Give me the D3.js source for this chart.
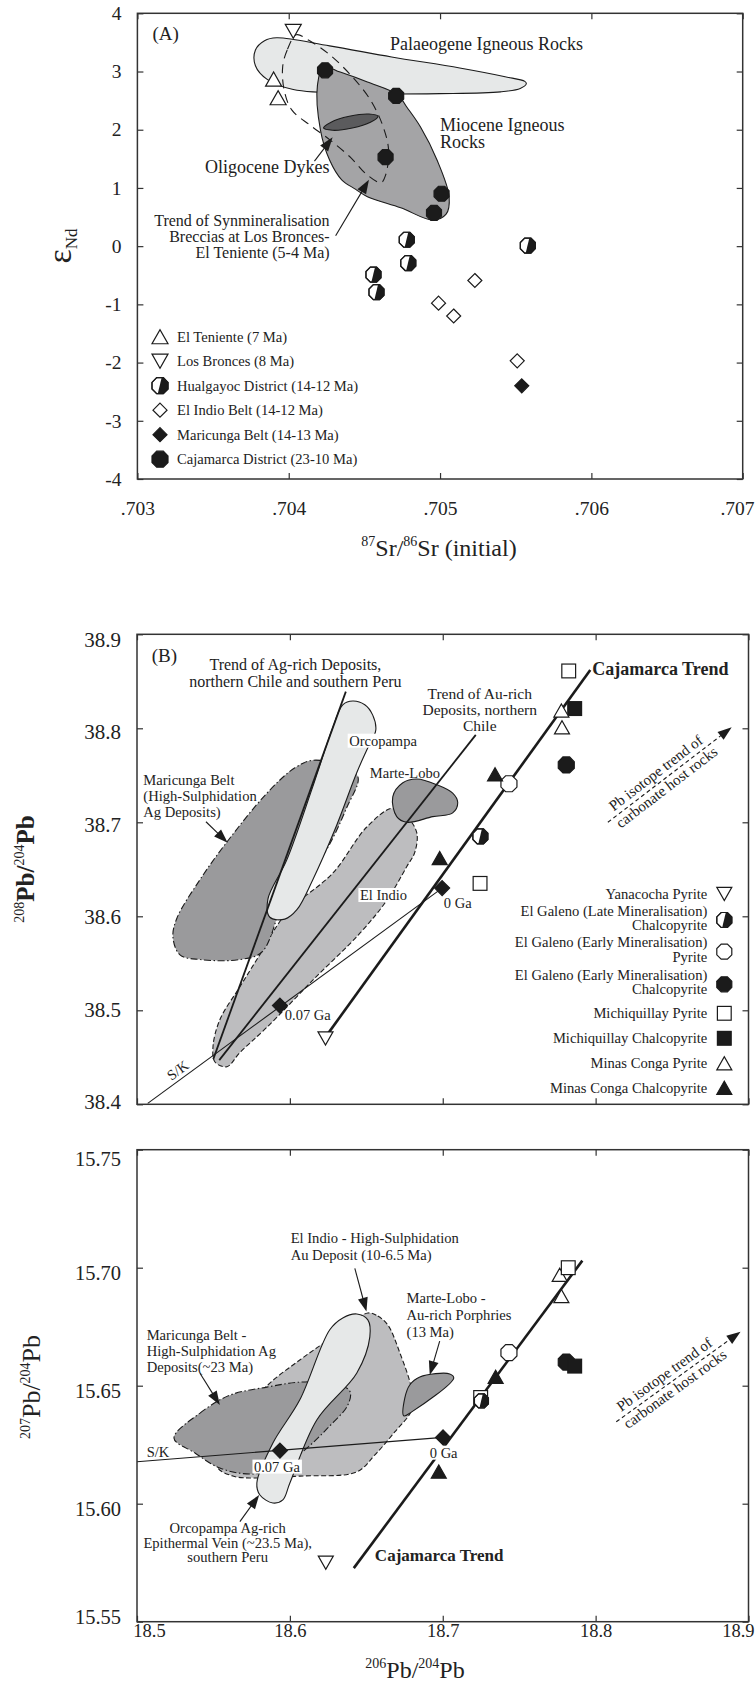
<!DOCTYPE html>
<html>
<head>
<meta charset="utf-8">
<script src="https://cdn.jsdelivr.net/npm/d3@7"></script>
<style>
  body { margin: 0; background: #fff; }
  svg text { font-family: "Liberation Serif", "DejaVu Serif", serif; }
</style>
</head>
<body>
<svg id="chart" width="755" height="1684"></svg>
<script>
// ---------- Panel A: eNd vs 87Sr/86Sr (initial) ----------
const srTicks = [0.703, 0.704, 0.705, 0.706, 0.707]
const ndTicks = [-4, -3, -2, -1, 0, 1, 2, 3, 4]

const elTeniente = [[0.70390, 2.87], [0.70393, 2.55]]
const losBronces = [[0.70403, 3.69]]
const hualgayoc = [[0.70478, 0.11], [0.70479, -0.29], [0.70456, -0.49], [0.70458, -0.79], [0.70558, 0.01]]
const elIndioBelt = [[0.70523, -0.59], [0.70499, -0.98], [0.70509, -1.20], [0.70551, -1.97]]
const maricungaBelt = [[0.70554, -2.40]]
const cajamarcaDistrict = [[0.70424, 3.02], [0.70471, 2.58], [0.70464, 1.53], [0.70501, 0.90], [0.70496, 0.57]]

const legendNamesA = ["El Teniente (7 Ma)", "Los Bronces (8 Ma)", "Hualgayoc District (14-12 Ma)",
  "El Indio Belt (14-12 Ma)", "Maricunga Belt (14-13 Ma)", "Cajamarca District (23-10 Ma)"]

const palaeogeneField = [[0.70392, 3.58], [0.70427, 3.44], [0.70468, 3.25], [0.70513, 3.06], [0.70543, 2.91],
  [0.70556, 2.83], [0.70557, 2.79], [0.70553, 2.71], [0.70540, 2.65], [0.70500, 2.62], [0.70447, 2.62],
  [0.70403, 2.69], [0.70386, 2.86], [0.70378, 3.10], [0.70378, 3.37], [0.70384, 3.53]]
const mioceneField = [[0.70423, 3.08], [0.70419, 2.77], [0.70421, 1.99], [0.70427, 1.48], [0.70435, 1.14],
  [0.70444, 0.98], [0.70452, 0.85], [0.70474, 0.66], [0.70495, 0.45], [0.70504, 0.55], [0.70506, 0.85],
  [0.70498, 1.48], [0.70487, 2.05], [0.70478, 2.39], [0.70472, 2.60], [0.70452, 2.82], [0.70434, 2.99]]
const oligoceneDykes = [[0.70459, 2.23], [0.70454, 2.13], [0.70442, 2.03], [0.70429, 1.99], [0.70423, 2.03],
  [0.70428, 2.13], [0.70440, 2.23], [0.70453, 2.27]]
const brecciaTrend = [[0.70405, 3.63], [0.70399, 3.37], [0.70396, 3.08], [0.70397, 2.68], [0.70402, 2.34],
  [0.70414, 2.08], [0.70427, 1.83], [0.70441, 1.52], [0.70452, 1.22], [0.70461, 1.09], [0.70464, 1.22],
  [0.70466, 1.65], [0.70462, 2.08], [0.70454, 2.51], [0.70442, 2.91], [0.70427, 3.29], [0.70413, 3.54]]

// ---------- Panels B and C: Pb isotopes ----------
const pb206Ticks = [18.5, 18.6, 18.7, 18.8, 18.9]
const pb208Ticks = [38.4, 38.5, 38.6, 38.7, 38.8, 38.9]
const pb207Ticks = [15.55, 15.60, 15.65, 15.70, 15.75]

const legendNamesB = [["Yanacocha Pyrite"], ["El Galeno (Late Mineralisation)", "Chalcopyrite"],
  ["El Galeno (Early Mineralisation)", "Pyrite"], ["El Galeno (Early Mineralisation)", "Chalcopyrite"],
  ["Michiquillay Pyrite"], ["Michiquillay Chalcopyrite"], ["Minas Conga Pyrite"], ["Minas Conga Chalcopyrite"]]

// 208Pb/204Pb
const yanacochaPyB = [[18.6233, 38.470]]
const galenoLateCpB = [[18.7246, 38.685]]
const galenoEarlyPyB = [[18.7433, 38.741]]
const galenoEarlyCpB = [[18.7808, 38.761]]
const michiPyB = [[18.7824, 38.861], [18.7244, 38.635]]
const michiCpB = [[18.7863, 38.821]]
const congaPyB = [[18.7776, 38.819], [18.7780, 38.801]]
const congaCpB = [[18.7342, 38.751], [18.6980, 38.662]]
const skModelB = [[18.5935, 38.505], [18.6996, 38.630]]

const skLineB = [[18.507, 38.401], [18.6996, 38.630]]
const agTrendB = [[18.5499, 38.448], [18.6366, 38.839]]
const auTrendB = [[18.5538, 38.447], [18.7216, 38.793]]
const cajTrendB = [[18.6235, 38.472], [18.7965, 38.862]]
const hostTrendB = [[18.808, 38.700], [18.889, 38.801]]

const maricungaFieldB = [[18.6150, 38.766], [18.6294, 38.762], [18.6444, 38.749], [18.6373, 38.716],
  [18.6196, 38.660], [18.5993, 38.629], [18.5817, 38.562], [18.5673, 38.554], [18.5412, 38.554],
  [18.5281, 38.559], [18.5235, 38.578], [18.5261, 38.598], [18.5412, 38.639], [18.5588, 38.679],
  [18.5850, 38.731], [18.6033, 38.758]]
const orcopampaFieldB = [[18.6346, 38.825], [18.6412, 38.829], [18.6490, 38.825], [18.6542, 38.814],
  [18.6562, 38.798], [18.6503, 38.777], [18.6438, 38.753], [18.6294, 38.692], [18.6150, 38.639],
  [18.6046, 38.607], [18.5967, 38.597], [18.5869, 38.599], [18.5856, 38.618], [18.5980, 38.660],
  [18.6150, 38.738], [18.6281, 38.801]]
const elIndioFieldB = [[18.6673, 38.715], [18.6765, 38.706], [18.6830, 38.689], [18.6817, 38.668],
  [18.6765, 38.653], [18.6634, 38.617], [18.6458, 38.582], [18.6150, 38.532], [18.5850, 38.482],
  [18.5673, 38.455], [18.5588, 38.440], [18.5510, 38.445], [18.5497, 38.461], [18.5542, 38.490],
  [18.5673, 38.525], [18.5784, 38.554], [18.5980, 38.604], [18.6281, 38.646], [18.6503, 38.695]]
const marteLoboFieldB = [[18.6673, 38.727], [18.6739, 38.742], [18.6830, 38.746], [18.6961, 38.740],
  [18.7065, 38.731], [18.7098, 38.721], [18.7065, 38.710], [18.6935, 38.706], [18.6765, 38.700],
  [18.6699, 38.706]]

// 207Pb/204Pb
const yanacochaPyC = [[18.6235, 15.575]]
const galenoLateCpC = [[18.7253, 15.6436]]
const galenoEarlyPyC = [[18.7433, 15.664]]
const galenoEarlyCpC = [[18.7808, 15.660]]
const michiPyC = [[18.7821, 15.700], [18.7248, 15.645]]
const michiCpC = [[18.7863, 15.6583]]
const congaPyC = [[18.7765, 15.697], [18.7776, 15.688]]
const congaCpC = [[18.7346, 15.6538], [18.6974, 15.6136]]
const skModelC = [[18.5935, 15.6225], [18.7002, 15.6281]]

const skLineC = [[18.5, 15.6178], [18.7002, 15.6281]]
const cajTrendC = [[18.6418, 15.5727], [18.7913, 15.7030]]
const hostTrendC = [[18.8135, 15.6347], [18.8948, 15.6729]]

const elIndioFieldC = [[18.6510, 15.6808], [18.6575, 15.6795], [18.6641, 15.6757], [18.6719, 15.6640],
  [18.6797, 15.6482], [18.6797, 15.6397], [18.6686, 15.6304], [18.6556, 15.6207], [18.6438, 15.6135],
  [18.6065, 15.6117], [18.5778, 15.6109], [18.5627, 15.6117], [18.5523, 15.6160], [18.5673, 15.6355],
  [18.5843, 15.6495], [18.6065, 15.6609], [18.6281, 15.6707]]
const maricungaFieldC = [[18.5242, 15.6278], [18.5412, 15.6384], [18.5608, 15.6460], [18.5850, 15.6494],
  [18.6065, 15.6515], [18.6281, 15.6511], [18.6392, 15.6477], [18.6379, 15.6418], [18.6248, 15.6321],
  [18.6098, 15.6228], [18.5935, 15.6151], [18.5739, 15.6126], [18.5542, 15.6151], [18.5379, 15.6215]]
const orcopampaFieldC = [[18.6261, 15.6737], [18.6346, 15.6787], [18.6438, 15.6804], [18.6510, 15.6779],
  [18.6523, 15.6707], [18.6438, 15.6554], [18.6176, 15.6355], [18.6000, 15.6088], [18.5954, 15.6016],
  [18.5889, 15.6003], [18.5804, 15.6037], [18.5784, 15.6088], [18.5889, 15.6257], [18.6065, 15.6440]]
const marteLoboFieldC = [[18.6752, 15.6448], [18.6784, 15.6503], [18.6850, 15.6537], [18.7046, 15.6550],
  [18.7072, 15.6533], [18.6797, 15.6389], [18.6745, 15.6372]]

// ---------- drawing ----------
const serif = '"Liberation Serif", "DejaVu Serif", serif'
const ink = "#1b1b1b"
const svg = d3.select("#chart").attr("font-family", serif)
svg.append("rect").attr("width", 755).attr("height", 1684).attr("fill", "#fff")

svg.append("defs").append("clipPath").attr("id", "halfClip").attr("clipPathUnits", "objectBoundingBox")
  .append("polygon").attr("points", "0.6,0 1.1,0 1.1,1 0.36,1")

const xA = d3.scaleLinear().domain([0.703, 0.707]).range([137.4, 742.7])
const yA = d3.scaleLinear().domain([-4, 4]).range([479, 13.3])
const xB = d3.scaleLinear().domain([18.5, 18.9]).range([137, 748.5])
const yB = d3.scaleLinear().domain([38.4, 38.9]).range([1104.3, 634.3])
const xC = xB.copy()
const yC = d3.scaleLinear().domain([15.55, 15.75]).range([1621.7, 1149.7])

// ticks point inward on all four sides; labels only left and bottom
function axes(x, y, xt, yt, xfmt, yfmt, xPad, yShift, fs) {
  const g = svg.append("g")
  const [x0, x1] = x.range(), [y0, y1] = y.range()
  const none = () => ""
  const bottom = g.append("g").attr("transform", `translate(0,${y0})`)
    .call(d3.axisBottom(x).tickValues(xt).tickSize(-6).tickPadding(xPad).tickFormat(xfmt || none))
  g.append("g").attr("transform", `translate(0,${y1})`)
    .call(d3.axisTop(x).tickValues(xt).tickSize(-6).tickFormat(none))
  const left = g.append("g").attr("transform", `translate(${x0},0)`)
    .call(d3.axisLeft(y).tickValues(yt).tickSize(-6).tickPadding(16).tickFormat(yfmt))
  g.append("g").attr("transform", `translate(${x1},0)`)
    .call(d3.axisRight(y).tickValues(yt).tickSize(-6).tickFormat(none))
  g.selectAll(".domain").remove()
  g.selectAll(".tick line").attr("stroke", "#333").attr("stroke-width", 1.2)
  g.selectAll(".tick text").attr("font-family", serif).attr("fill", "#222")
  bottom.selectAll(".tick text").attr("font-size", fs[0])
  left.selectAll(".tick text").attr("font-size", fs[1]).attr("y", yShift)
  // keep the last x label inside the page
  bottom.selectAll(".tick text").filter(d => d === xt[xt.length - 1])
    .attr("text-anchor", "end").attr("x", 754 - x1)
  return { bottom, draw: () => svg.append("rect").attr("x", x0).attr("y", y1).attr("width", x1 - x0).attr("height", y0 - y1)
    .attr("fill", "none").attr("stroke", "#333").attr("stroke-width", 1.5) }
}

const blob = (x, y) => d3.line().x(d => x(d[0])).y(d => y(d[1])).curve(d3.curveCatmullRomClosed.alpha(0.5))
function region(g, pts, x, y, fill, dash) {
  g.append("path").attr("d", blob(x, y)(pts)).attr("fill", fill)
    .attr("stroke", ink).attr("stroke-width", 1.1).attr("stroke-dasharray", dash || null)
}
function seg(g, pts, x, y, w, dash) {
  g.append("line").attr("x1", x(pts[0][0])).attr("y1", y(pts[0][1]))
    .attr("x2", x(pts[1][0])).attr("y2", y(pts[1][1]))
    .attr("stroke", ink).attr("stroke-width", w).attr("stroke-dasharray", dash || null)
}
function arrow(g, x1, y1, x2, y2, dash) {
  const len = 14, wid = 10
  const L = Math.hypot(x2 - x1, y2 - y1), ux = (x2 - x1) / L, uy = (y2 - y1) / L
  const bx = x2 - ux * len, by = y2 - uy * len
  g.append("line").attr("x1", x1).attr("y1", y1).attr("x2", bx + ux * 2).attr("y2", by + uy * 2)
    .attr("stroke", ink).attr("stroke-width", 1.1).attr("stroke-dasharray", dash || null)
  g.append("path").attr("d", `M${x2},${y2}L${bx - uy * wid / 2},${by + ux * wid / 2}L${bx + uy * wid / 2},${by - ux * wid / 2}Z`)
    .attr("fill", ink)
}
function label(g, x, y, lines, o = {}) {
  const t = g.append("text").attr("x", x).attr("y", y).attr("font-size", o.size || 15)
    .attr("text-anchor", o.anchor || "start").attr("font-weight", o.weight || null).attr("fill", "#222")
  lines.forEach((s, i) => t.append("tspan").attr("x", x).attr("dy", i ? (o.lh || 16) : 0).text(s))
  if (o.bg) {
    const b = t.node().getBBox()
    g.insert("rect", () => t.node()).attr("x", b.x - 1.5).attr("y", b.y + 1).attr("width", b.width + 3)
      .attr("height", b.height - 2).attr("fill", "#fff")
  }
  return t
}

function symbol(g, type, cx, cy, s) {
  const t = g.append("g").attr("transform", `translate(${cx},${cy})`)
  const h = s / 2
  const st = p => p.attr("stroke", ink).attr("stroke-width", 1.2).attr("stroke-linejoin", "miter")
  const oct = () => {
    const r = h / Math.cos(Math.PI / 8)
    return "M" + d3.range(8).map(i => {
      const a = Math.PI / 8 + i * Math.PI / 4
      return [r * Math.cos(a), r * Math.sin(a)].join(",")
    }).join("L") + "Z"
  }
  if (type === "triUp" || type === "triUpFill")
    st(t.append("path").attr("d", `M${-h},${h * 0.88}L${h},${h * 0.88}L0,${-h * 0.88}Z`))
      .attr("fill", type === "triUp" ? "#fff" : ink)
  else if (type === "triDown")
    st(t.append("path").attr("d", `M${-h},${-h * 0.88}L${h},${-h * 0.88}L0,${h * 0.88}Z`)).attr("fill", "#fff")
  else if (type === "diamond" || type === "diamondFill")
    st(t.append("path").attr("d", `M0,${-h}L${h},0L0,${h}L${-h},0Z`)).attr("fill", type === "diamond" ? "#fff" : ink)
  else if (type === "square" || type === "squareFill")
    st(t.append("rect").attr("x", -h * 0.92).attr("y", -h * 0.92).attr("width", h * 1.84).attr("height", h * 1.84))
      .attr("fill", type === "square" ? "#fff" : ink)
  else if (type === "oct" || type === "octFill")
    st(t.append("path").attr("d", oct())).attr("fill", type === "oct" ? "#fff" : ink)
  else if (type === "half") {
    st(t.append("path").attr("d", oct())).attr("fill", "#fff")
    t.append("path").attr("d", oct()).attr("fill", ink).attr("clip-path", "url(#halfClip)")
    st(t.append("path").attr("d", oct())).attr("fill", "none")
  }
}
function points(g, data, x, y, type, s) {
  data.forEach(d => symbol(g, type, x(d[0]), y(d[1]), s))
}

// ===== Panel A =====
const frameA = axes(xA, yA, srTicks, ndTicks, d => d3.format(".3f")(d).replace(/^0/, ""), d => String(d), 22, 0, [19.5, 19.5])
const gA = svg.append("g")
region(gA, palaeogeneField, xA, yA, "#e6e8e8")
region(gA, mioceneField, xA, yA, "#a4a4a6")
region(gA, oligoceneDykes, xA, yA, "#5b5b5d")
gA.append("path").attr("d", blob(xA, yA)(brecciaTrend)).attr("fill", "none")
  .attr("stroke", ink).attr("stroke-width", 1.1).attr("stroke-dasharray", "9,6")
arrow(gA, xA(0.70417), yA(1.46), xA(0.70429), yA(1.87))
arrow(gA, xA(0.70431), yA(0.18), xA(0.70453), yA(1.14))

points(gA, elTeniente, xA, yA, "triUp", 16)
points(gA, losBronces, xA, yA, "triDown", 16)
points(gA, hualgayoc, xA, yA, "half", 15)
points(gA, elIndioBelt, xA, yA, "diamond", 14)
points(gA, maricungaBelt, xA, yA, "diamondFill", 14)
points(gA, cajamarcaDistrict, xA, yA, "octFill", 15)

label(gA, xA(0.70310), yA(3.54), ["(A)"], { size: 19 })
label(gA, xA(0.70467), yA(3.37), ["Palaeogene Igneous Rocks"], { size: 18 })
label(gA, xA(0.70500), yA(1.98), ["Miocene Igneous", "Rocks"], { size: 18, lh: 17 })
label(gA, xA(0.70427), yA(1.26), ["Oligocene Dykes"], { size: 18, anchor: "end" })
label(gA, xA(0.70427), yA(0.35), ["Trend of Synmineralisation", "Breccias at Los Bronces-", "El Teniente (5-4 Ma)"],
  { size: 16, anchor: "end", lh: 16.3 })

const symA = ["triUp", "triDown", "half", "diamond", "diamondFill", "octFill"]
legendNamesA.forEach((n, i) => {
  const cy = 336.7 + i * 24.5
  symbol(gA, symA[i], 160, cy, i === 3 || i === 4 ? 14 : 16)
  label(gA, 177, cy + 5, [n], { size: 14.6 })
})
frameA.draw()

const tA = svg.append("text").attr("x", 439).attr("y", 556).attr("text-anchor", "middle").attr("fill", "#222")
tA.append("tspan").attr("font-size", 14).attr("dy", -10).text("87")
tA.append("tspan").attr("font-size", 24).attr("dy", 10).text("Sr/")
tA.append("tspan").attr("font-size", 14).attr("dy", -10).text("86")
tA.append("tspan").attr("font-size", 24).attr("dy", 10).text("Sr (initial)")
const eA = svg.append("text").attr("transform", "translate(71,246) rotate(-90)").attr("text-anchor", "middle").attr("fill", "#222")
eA.append("tspan").attr("font-size", 34).text("ε")
eA.append("tspan").attr("font-size", 17).attr("dy", 6).text("Nd")

// ===== Panel B =====
const frameB = axes(xB, yB, pb206Ticks, pb208Ticks, null, d3.format(".1f"), 4, d => 5.5 - (38.9 - d) * 16, [18.5, 21])
const gB = svg.append("g")
region(gB, elIndioFieldB, xB, yB, "#bdbdbf", "5,2.5")
region(gB, maricungaFieldB, xB, yB, "#9a9a9c", "7,2.5,1.5,2.5")
region(gB, orcopampaFieldB, xB, yB, "#e6e8e8")
region(gB, marteLoboFieldB, xB, yB, "#9a9a9c")
seg(gB, skLineB, xB, yB, 1.1)
seg(gB, agTrendB, xB, yB, 1.8)
seg(gB, auTrendB, xB, yB, 1.8)
seg(gB, cajTrendB, xB, yB, 2.6)
arrow(gB, xB(hostTrendB[0][0]), yB(hostTrendB[0][1]), xB(hostTrendB[1][0]), yB(hostTrendB[1][1]), "4,3")

points(gB, skModelB, xB, yB, "diamondFill", 15)
points(gB, yanacochaPyB, xB, yB, "triDown", 15)
points(gB, galenoLateCpB, xB, yB, "half", 15)
points(gB, galenoEarlyPyB, xB, yB, "oct", 16)
points(gB, galenoEarlyCpB, xB, yB, "octFill", 16)
points(gB, michiCpB, xB, yB, "squareFill", 15)
points(gB, michiPyB, xB, yB, "square", 15)
points(gB, congaPyB, xB, yB, "triUp", 15)
points(gB, congaCpB, xB, yB, "triUpFill", 15)

label(gB, xB(18.5096), yB(38.8705), ["(B)"], { size: 19 })
label(gB, xB(18.6036), yB(38.862), ["Trend of Ag-rich Deposits,", "northern Chile and southern Peru"],
  { size: 16, anchor: "middle", lh: 16.5 })
label(gB, xB(18.7242), yB(38.8312), ["Trend of Au-rich", "Deposits, northern", "Chile"],
  { size: 15.5, anchor: "middle", lh: 15.8 })
label(gB, xB(18.6388), yB(38.7815), ["Orcopampa"], { size: 14.5, bg: true })
label(gB, xB(18.6523), yB(38.7468), ["Marte-Lobo"], { size: 14.5 })
label(gB, xB(18.5041), yB(38.7397), ["Maricunga Belt", "(High-Sulphidation", "Ag Deposits)"], { size: 14.6, lh: 15.9 })
arrow(gB, xB(18.5451), yB(38.7006), xB(18.5593), yB(38.6783))
label(gB, xB(18.6458), yB(38.6173), ["El Indio"], { size: 14.5, bg: true })
label(gB, xB(18.7007), yB(38.6092), ["0 Ga"], { size: 14.5 })
label(gB, xB(18.5967), yB(38.4897), ["0.07 Ga"], { size: 14.5 })
{
  const a = Math.atan2(yB(skLineB[1][1]) - yB(skLineB[0][1]), xB(skLineB[1][0]) - xB(skLineB[0][0])) * 180 / Math.PI
  const t = d3.interpolate(skLineB[0], skLineB[1])(0.12)
  gB.append("text").attr("transform", `translate(${xB(t[0])},${yB(t[1])}) rotate(${a})`)
    .attr("text-anchor", "middle").attr("y", -4).attr("font-size", 14.5).attr("fill", "#222").text("S/K")
}
label(gB, xB(18.7978), yB(38.8567), ["Cajamarca Trend"], { size: 18, weight: "bold" })

function hostLabel(g, tr, x, y) {
  const x1 = x(tr[0][0]), y1 = y(tr[0][1]), x2 = x(tr[1][0]), y2 = y(tr[1][1])
  const a = Math.atan2(y2 - y1, x2 - x1) * 180 / Math.PI
  const tg = g.append("g").attr("transform", `translate(${(x1 + x2) / 2},${(y1 + y2) / 2}) rotate(${a})`)
  tg.append("text").attr("x", -10).attr("y", -5).attr("text-anchor", "middle").attr("font-size", 15)
    .attr("fill", "#222").text("Pb isotope trend of")
  tg.append("text").attr("x", -10).attr("y", 13).attr("text-anchor", "middle").attr("font-size", 15)
    .attr("fill", "#222").text("carbonate host rocks")
}
hostLabel(gB, hostTrendB, xB, yB)

const symB = ["triDown", "half", "oct", "octFill", "square", "squareFill", "triUp", "triUpFill"]
const legendYB = [894, 920, 951.7, 984.3, 1013.3, 1038.3, 1063.3, 1087.7]
legendNamesB.forEach((n, i) => {
  const cy = legendYB[i]
  symbol(gB, symB[i], 724.3, cy, 15)
  const first = n.length > 1 ? cy - 4.5 : cy + 5
  label(gB, 707.3, first, n, { size: 14.6, anchor: "end", lh: 14.3 })
})
frameB.draw()

const tB = svg.append("text").attr("transform", "translate(34,869) rotate(-90)").attr("text-anchor", "middle")
  .attr("fill", "#222").attr("font-weight", "bold")
tB.append("tspan").attr("font-size", 14).attr("dy", -10).attr("font-weight", "normal").text("208")
tB.append("tspan").attr("font-size", 25).attr("dy", 10).text("Pb/")
tB.append("tspan").attr("font-size", 14).attr("dy", -10).attr("font-weight", "normal").text("204")
tB.append("tspan").attr("font-size", 25).attr("dy", 10).text("Pb")

// ===== Panel C =====
const frameC = axes(xC, yC, pb206Ticks, pb207Ticks, d3.format(".1f"), d3.format(".2f"), 2,
  d => d === 15.55 ? -5 : d === 15.75 ? 9 : 5.5, [18.5, 20.5])
frameC.bottom.selectAll(".tick text").filter(d => d === 18.5).attr("x", 12)
const gC = svg.append("g")
region(gC, elIndioFieldC, xC, yC, "#bdbdbf", "5,2.5")
region(gC, maricungaFieldC, xC, yC, "#9a9a9c", "7,2.5,1.5,2.5")
region(gC, orcopampaFieldC, xC, yC, "#e6e8e8")
region(gC, marteLoboFieldC, xC, yC, "#9a9a9c")
seg(gC, skLineC, xC, yC, 1.1)
seg(gC, cajTrendC, xC, yC, 2.6)
arrow(gC, xC(hostTrendC[0][0]), yC(hostTrendC[0][1]), xC(hostTrendC[1][0]), yC(hostTrendC[1][1]), "4,3")

label(gC, xC(18.5765), yC(15.6136), ["0.07 Ga"], { size: 14.5, bg: true })
label(gC, xC(18.6915), yC(15.6195), ["0 Ga"], { size: 14.5, bg: true })

points(gC, skModelC, xC, yC, "diamondFill", 15)
points(gC, yanacochaPyC, xC, yC, "triDown", 15)
points(gC, galenoEarlyPyC, xC, yC, "oct", 16)
points(gC, galenoEarlyCpC, xC, yC, "octFill", 16)
points(gC, michiCpC, xC, yC, "squareFill", 15)
points(gC, congaPyC, xC, yC, "triUp", 15)
points(gC, michiPyC, xC, yC, "square", 15)
points(gC, galenoLateCpC, xC, yC, "half", 14)
points(gC, congaCpC, xC, yC, "triUpFill", 15)

label(gC, xC(18.6005), yC(15.7103), ["El Indio - High-Sulphidation", "Au Deposit (10-6.5 Ma)"], { size: 14.6, lh: 16.7 })
arrow(gC, xC(18.6425), yC(15.6997), xC(18.6501), yC(15.6814))
label(gC, xC(18.6763), yC(15.6849), ["Marte-Lobo -", "Au-rich Porphries", "(13 Ma)"], { size: 14.6, lh: 16.7 })
arrow(gC, xC(18.6980), yC(15.6689), xC(18.6915), yC(15.6545))
label(gC, xC(18.5063), yC(15.6694), ["Maricunga Belt -", "High-Sulphidation Ag", "Deposits(~23 Ma)"], { size: 14.6, lh: 15.9 })
arrow(gC, xC(18.5412), yC(15.6553), xC(18.5542), yC(15.6418))
label(gC, xC(18.5593), yC(15.5877), ["Orcopampa Ag-rich", "Epithermal Vein (~23.5 Ma),", "southern Peru"],
  { size: 14.6, anchor: "middle", lh: 14.8 })
arrow(gC, xC(18.5673), yC(15.5924), xC(18.5799), yC(15.6037))
label(gC, xC(18.5063), yC(15.6199), ["S/K"], { size: 14.5 })
label(gC, xC(18.6556), yC(15.5757), ["Cajamarca Trend"], { size: 17, weight: "bold" })
hostLabel(gC, hostTrendC, xC, yC)
frameC.draw()

const tC = svg.append("text").attr("transform", "translate(40,1387) rotate(-90)").attr("text-anchor", "middle").attr("fill", "#222")
tC.append("tspan").attr("font-size", 14).attr("dy", -10).text("207")
tC.append("tspan").attr("font-size", 26).attr("dy", 10).text("Pb/")
tC.append("tspan").attr("font-size", 14).attr("dy", -10).text("204")
tC.append("tspan").attr("font-size", 26).attr("dy", 10).text("Pb")

const xTitle = svg.append("text").attr("x", 415).attr("y", 1678).attr("text-anchor", "middle").attr("fill", "#222")
xTitle.append("tspan").attr("font-size", 14).attr("dy", -10).text("206")
xTitle.append("tspan").attr("font-size", 24).attr("dy", 10).text("Pb/")
xTitle.append("tspan").attr("font-size", 14).attr("dy", -10).text("204")
xTitle.append("tspan").attr("font-size", 24).attr("dy", 10).text("Pb")
</script>
</body>
</html>
